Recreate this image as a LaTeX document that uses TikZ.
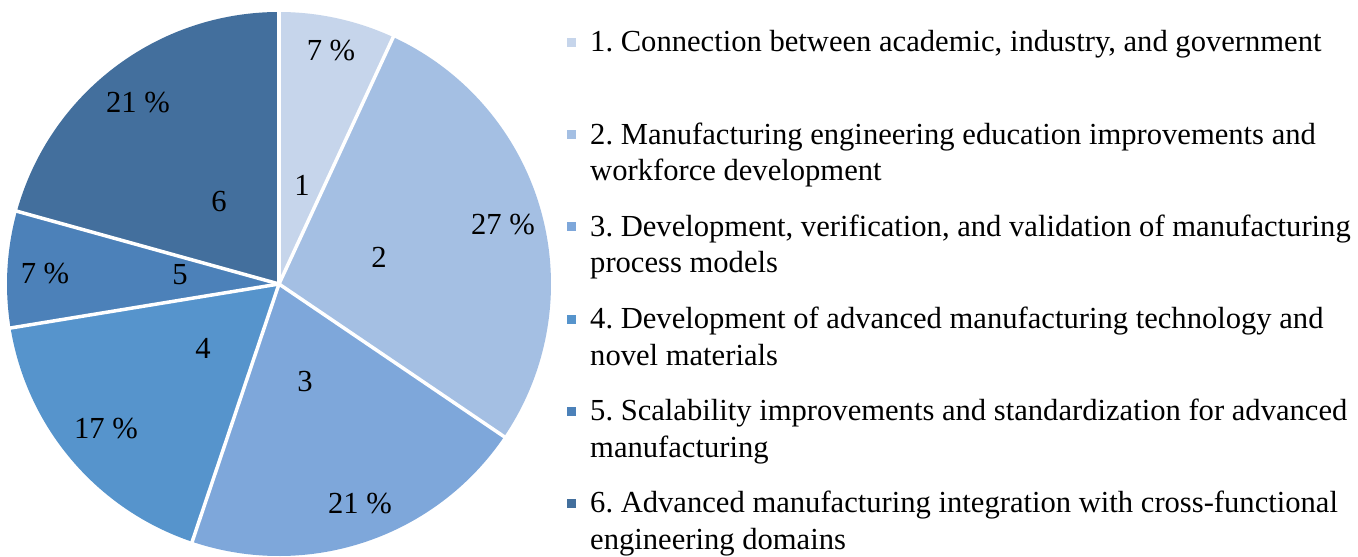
\documentclass[tikz,border=0pt]{standalone}
\usepackage{fontspec}
\setmainfont{Liberation Serif}
\definecolor{c1}{HTML}{C6D5EB}
\definecolor{c2}{HTML}{A4BFE3}
\definecolor{c3}{HTML}{7EA7DA}
\definecolor{c4}{HTML}{5694CC}
\definecolor{c5}{HTML}{4C81B9}
\definecolor{c6}{HTML}{436F9D}
\tikzset{
  lbl/.style={inner sep=0pt, font=\fontsize{30.6}{36.5}\selectfont, text=black},
  legtext/.style={inner sep=0pt, anchor=base west, align=left, font=\fontsize{30.6}{36.5}\selectfont, text=black},
  legbox/.style={inner sep=0pt, minimum size=9pt, draw=none},
  sepline/.style={white, line width=3.5pt},
}
\frenchspacing
\begin{document}
\begin{tikzpicture}[x=1pt,y=1pt]
\useasboundingbox (0,0) rectangle (1358,557);
\fill[white] (0,0) rectangle (1358,557);
\coordinate (O) at (279,273);
\def\R{272}
% slices (clockwise from top): 2,8,6,5,2,6 of 29
\fill[c1] (O) -- ++(90:\R) arc[start angle=90, end angle=65.17, radius=\R] -- cycle;
\fill[c2] (O) -- ++(65.17:\R) arc[start angle=65.17, end angle=-34.14, radius=\R] -- cycle;
\fill[c3] (O) -- ++(-34.14:\R) arc[start angle=-34.14, end angle=-108.62, radius=\R] -- cycle;
\fill[c4] (O) -- ++(-108.62:\R) arc[start angle=-108.62, end angle=-170.69, radius=\R] -- cycle;
\fill[c5] (O) -- ++(-170.69:\R) arc[start angle=-170.69, end angle=-195.52, radius=\R] -- cycle;
\fill[c6] (O) -- ++(-195.52:\R) arc[start angle=-195.52, end angle=-270, radius=\R] -- cycle;
% separators
\foreach \a in {90,65.17,-34.14,-108.62,-170.69,-195.52}
  \draw[sepline] (O) -- ++(\a:\R+2);
% percentage labels
\node[lbl] (p1) at (331,506) {7 \%};
\node[lbl] (p2) at (503,332) {27 \%};
\node[lbl] (p3) at (360,53) {21 \%};
\node[lbl] (p4) at (106,128) {17 \%};
\node[lbl] (p5) at (45,283) {7 \%};
\node[lbl] (p6) at (138,454) {21 \%};
% category labels
\node[lbl] (n1) at (302,372) {1};
\node[lbl] (n2) at (379,300) {2};
\node[lbl] (n3) at (305,175) {3};
\node[lbl] (n4) at (203,209) {4};
\node[lbl] (n5) at (180,282) {5};
\node[lbl] (n6) at (219,355) {6};
% legend
\node[legbox, fill=c1] (m1) at (571.5,514.5) {};
\node[legbox, fill=c2] (m2) at (571.5,422.3) {};
\node[legbox, fill=c3] (m3) at (571.5,330.1) {};
\node[legbox, fill=c4] (m4) at (571.5,237.9) {};
\node[legbox, fill=c5] (m5) at (571.5,145.7) {};
\node[legbox, fill=c6] (m6) at (571.5,53.5) {};
% base anchor of a multi-line node is the baseline of its last line
\node[legtext] (t1) at (590,505) {1. Connection between academic, industry, and government};
\node[legtext] (t2) at (590,376.3) {2. Manufacturing engineering education improvements and\\workforce development};
\node[legtext] (t3) at (590,284.1) {3. Development, verification, and validation of manufacturing\\process models};
\node[legtext] (t4) at (590,191.9) {4. Development of advanced manufacturing technology and\\novel materials};
\node[legtext] (t5) at (590,99.7) {5. Scalability improvements and standardization for advanced\\manufacturing};
\node[legtext] (t6) at (590,7.5) {6. Advanced manufacturing integration with cross-functional\\engineering domains};
\end{tikzpicture}
\end{document}
